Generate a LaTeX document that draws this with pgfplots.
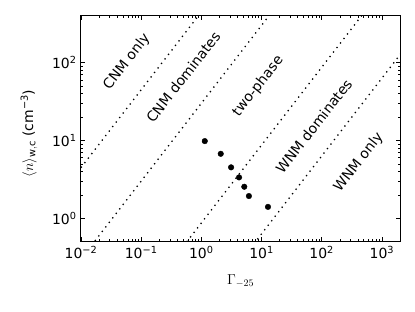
\documentclass[border=0pt]{standalone}
\usepackage{fontspec}
\setmainfont{DejaVu Sans}
\usepackage{pgfplots}
\pgfplotsset{compat=1.18}
\newcommand{\mn}{−}
\begin{document}
\begin{tikzpicture}
\path[use as bounding box] (0,0) rectangle (415bp,312bp);
\begin{axis}[
  at={(81bp,70.3bp)}, anchor=south west,
  width=319bp, height=226bp, scale only axis,
  xmode=log, ymode=log,
  xmin=0.01, xmax=2000, ymin=0.5, ymax=400,
  axis line style={line width=1bp},
  every tick/.style={black, line width=0.6bp},
  major tick length=4.5bp, minor tick length=2.3bp,
  tick align=inside,
  xtick={0.01,0.1,1,10,100,1000},
  xticklabels={10\textsuperscript{\mn2},10\textsuperscript{\mn1},10\textsuperscript{0},10\textsuperscript{1},10\textsuperscript{2},10\textsuperscript{3}},
  ytick={1,10,100},
  yticklabels={10\textsuperscript{0},10\textsuperscript{1},10\textsuperscript{2}},
  tick label style={font=\fontsize{14}{16}\selectfont},
  xticklabel style={yshift=-1bp},
  yticklabel style={xshift=-1bp},
  xlabel={$\Gamma_{-25}$},
  xlabel style={at={(axis description cs:0.5,-0.175)}, anchor=center, font=\fontsize{14}{16}\selectfont},
  ylabel={$\langle n\rangle_{\mathrm{w,c}}$ (cm\textsuperscript{\mn3})},
  ylabel style={at={(axis description cs:-0.163,0.479)}, anchor=center, rotate=0, font=\fontsize{14}{16}\selectfont},
  clip=true,
]
\addplot[black, line width=1.3bp, dash pattern=on 1.3bp off 4.4bp] coordinates {(0.01,4.47) (1,447)};
\addplot[black, line width=1.3bp, dash pattern=on 1.3bp off 4.4bp] coordinates {(0.01,0.3) (20,600)};
\addplot[black, line width=1.3bp, dash pattern=on 1.3bp off 4.4bp] coordinates {(0.5,0.435) (1000,870)};
\addplot[black, line width=1.3bp, dash pattern=on 1.3bp off 4.4bp] coordinates {(5,0.315) (10000,630)};
\addplot[only marks, mark=*, mark size=2.8bp, black] coordinates {
(1.14,9.8) (2.10,6.73) (3.12,4.51) (4.23,3.35) (5.17,2.54) (6.17,1.93) (12.8,1.40)};
\node[rotate=52, font=\fontsize{14}{16}\selectfont] at (axis cs:0.058,102) {CNM only};
\node[rotate=52, font=\fontsize{14}{16}\selectfont] at (axis cs:0.50,65) {CNM dominates};
\node[rotate=52, font=\fontsize{14}{16}\selectfont] at (axis cs:8.8,49.7) {two-phase};
\node[rotate=52, font=\fontsize{14}{16}\selectfont] at (axis cs:74,15.2) {WNM dominates};
\node[rotate=52, font=\fontsize{14}{16}\selectfont] at (axis cs:412,5.27) {WNM only};
\end{axis}
\end{tikzpicture}
\end{document}
